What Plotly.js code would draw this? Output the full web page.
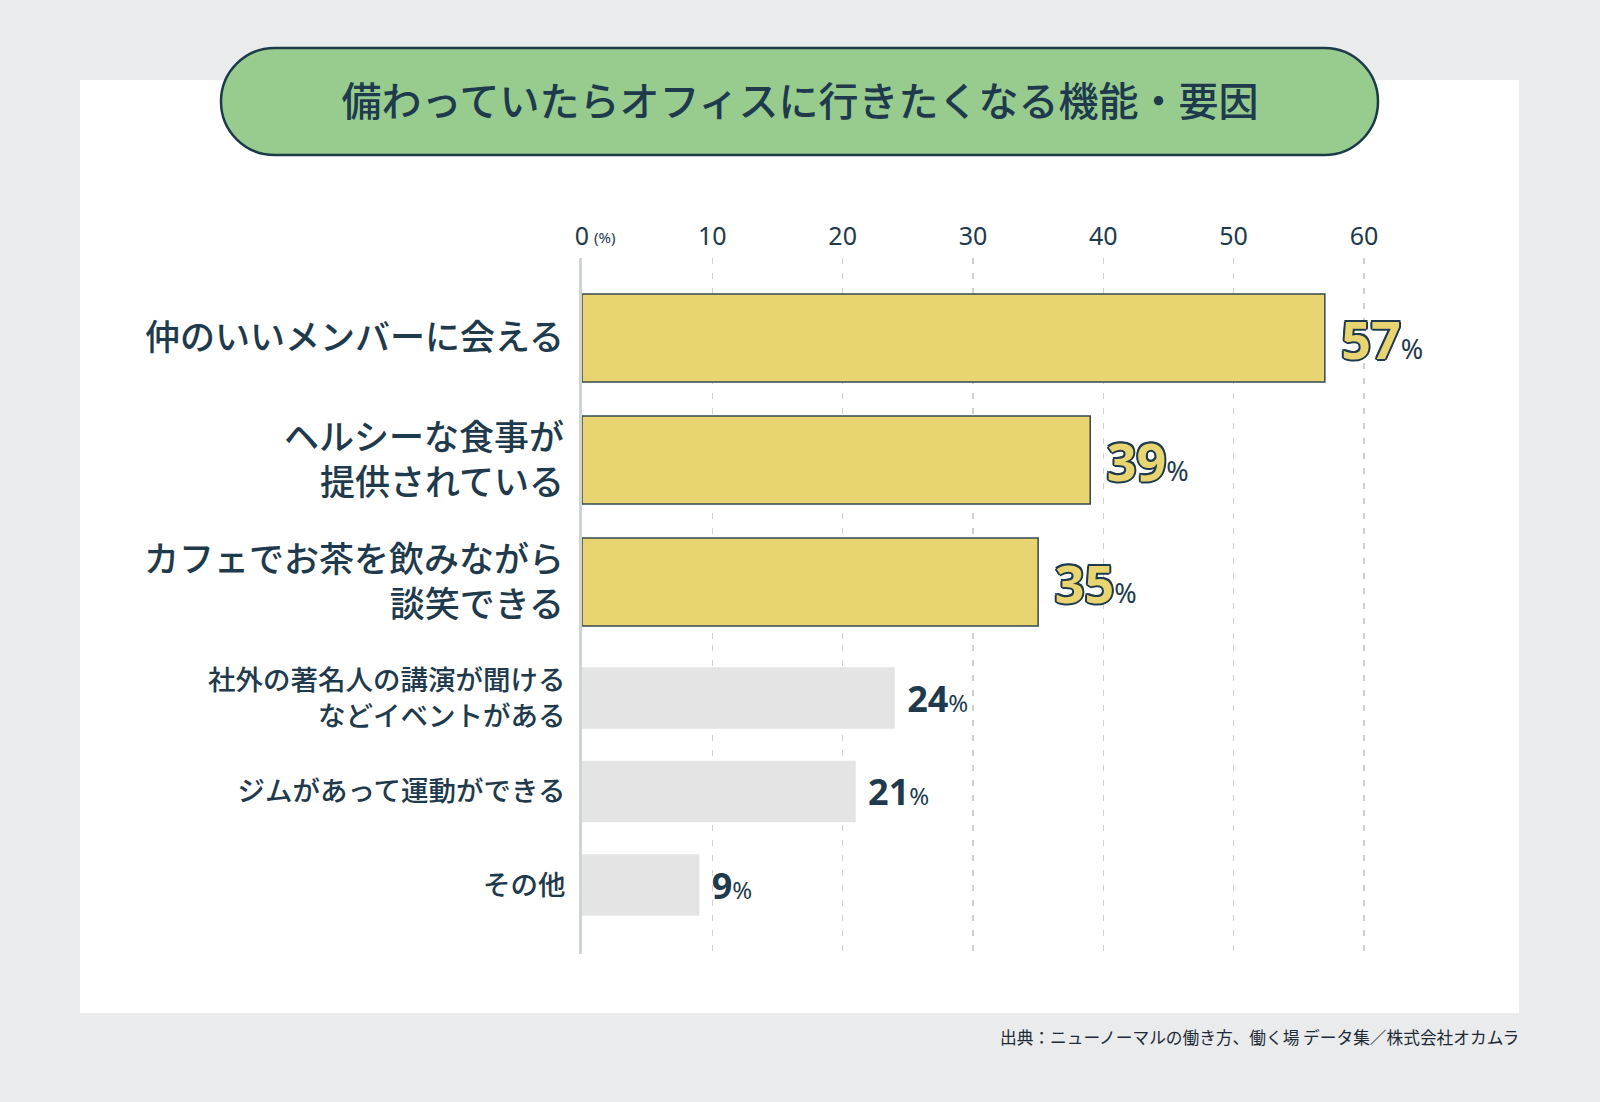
<!DOCTYPE html>
<html>
<head>
<meta charset="utf-8">
<script src="https://cdn.plot.ly/plotly-3.0.1.min.js"></script>
<style>
  body { margin: 0; background: #e9ebed; }
  #chart { width: 1600px; height: 1102px; }
</style>
</head>
<body>
<div id="chart"></div>
<script>
// values
var topLabels = ['仲のいいメンバーに会える', 'ヘルシーな食事が<br>提供されている', 'カフェでお茶を飲みながら<br>談笑できる'];
var topValues = [57, 39, 35];
var otherLabels = ['社外の著名人の講演が聞ける<br>などイベントがある', 'ジムがあって運動ができる', 'その他'];
var otherValues = [24, 21, 9];
var tickValues = [0, 10, 20, 30, 40, 50, 60];
var tickLabels = ['0', '10', '20', '30', '40', '50', '60'];

var W = 1600, H = 1102;
var navy = '#1e3a4c';
var jp = '"Noto Sans CJK JP", "Noto Sans", sans-serif';
var num = '"Noto Sans", "DejaVu Sans", sans-serif';

function px(x) { return x / W; }
function py(y) { return 1 - y / H; }

// rounded pill behind the title
function pill(x0, y0, x1, y1) {
    var r = (y1 - y0) / 2, k = 0.5523 * r;
    return 'M' + px(x0 + r) + ',' + py(y0) +
        ' L' + px(x1 - r) + ',' + py(y0) +
        ' C' + px(x1 - r + k) + ',' + py(y0) + ' ' + px(x1) + ',' + py(y0 + r - k) + ' ' + px(x1) + ',' + py(y0 + r) +
        ' C' + px(x1) + ',' + py(y0 + r + k) + ' ' + px(x1 - r + k) + ',' + py(y1) + ' ' + px(x1 - r) + ',' + py(y1) +
        ' L' + px(x0 + r) + ',' + py(y1) +
        ' C' + px(x0 + r - k) + ',' + py(y1) + ' ' + px(x0) + ',' + py(y0 + r + k) + ' ' + px(x0) + ',' + py(y0 + r) +
        ' C' + px(x0) + ',' + py(y0 + r - k) + ' ' + px(x0 + r - k) + ',' + py(y0) + ' ' + px(x0 + r) + ',' + py(y0) + ' Z';
}

// dark outline round the yellow numbers
var outline = ['-1.5px -1.5px', '1.5px -1.5px', '-1.5px 1.5px', '1.5px 1.5px', '0 2px', '0 -2px', '2px 0', '-2px 0']
    .map(function (o) { return o + ' 0 ' + navy; }).join(', ');

var traces = [{
        type: 'bar',
        orientation: 'h',
        x: topValues,
        y: topLabels,
        xaxis: 'x',
        yaxis: 'y',
        width: 0.72,
        marker: { color: '#e8d572', line: { color: '#34494f', width: 1.5 } },
        texttemplate: '\u00a0%{x}<span style="font-size:27px;font-weight:400;text-shadow:none;color:' + navy + '">%</span>',
        textposition: 'outside',
        cliponaxis: false,
        textfont: { family: num, size: 52, weight: 700, color: '#e8d572', shadow: outline },
        hoverinfo: 'skip'
    },
    {
        type: 'bar',
        orientation: 'h',
        x: otherValues,
        y: otherLabels,
        xaxis: 'x2',
        yaxis: 'y2',
        width: 0.66,
        marker: { color: '#e4e4e4', line: { width: 0 } },
        texttemplate: '\u00a0%{x}<span style="font-size:24px;font-weight:400">%</span>',
        textposition: 'outside',
        cliponaxis: false,
        textfont: { family: num, size: 36, weight: 700, color: navy },
        hoverinfo: 'skip'
    }
];

var xdomain = [px(582), px(1390)];
var grid = { showgrid: true, gridcolor: '#cdd1d4', gridwidth: 1.5, griddash: '6px,9px', zeroline: false, showline: false, ticks: '' };

var layout = {
    width: W,
    height: H,
    margin: { l: 0, r: 0, t: 0, b: 0 },
    paper_bgcolor: '#e9ebed',
    plot_bgcolor: 'rgba(0,0,0,0)',
    showlegend: false,
    hovermode: false,
    title: {
        text: '備わっていたらオフィスに行きたくなる機能・要因',
        x: 0.5, xanchor: 'center', xref: 'paper',
        y: py(102), yanchor: 'middle', yref: 'paper',
        font: { family: jp, size: 40, weight: 500, color: navy }
    },
    xaxis: Object.assign({
        domain: xdomain, range: [0, 62], anchor: 'y', side: 'top',
        tickmode: 'array', tickvals: tickValues, ticktext: tickLabels,
        tickfont: { family: num, size: 25, color: navy },
        ticklabelstandoff: 7
    }, grid),
    xaxis2: Object.assign({
        domain: xdomain, range: [0, 62], anchor: 'y2', matches: 'x',
        tickvals: tickValues, showticklabels: false
    }, grid),
    yaxis: {
        domain: [py(645), py(258)], anchor: 'x', type: 'category',
        categoryorder: 'array', categoryarray: topLabels,
        range: [2.516, -0.656],
        showline: true, linecolor: '#cfd4d7', linewidth: 3,
        showgrid: false, zeroline: false, ticks: '',
        tickfont: { family: jp, size: 35, weight: 500, color: navy },
        ticklabelstandoff: 8
    },
    yaxis2: {
        domain: [py(954), py(645)], anchor: 'x2', type: 'category',
        categoryorder: 'array', categoryarray: otherLabels,
        range: [2.738, -0.567],
        showline: true, linecolor: '#cfd4d7', linewidth: 3,
        showgrid: false, zeroline: false, ticks: '',
        tickfont: { family: jp, size: 27.5, weight: 500, color: navy },
        ticklabelstandoff: 8
    },
    shapes: [{
            type: 'rect', xref: 'paper', yref: 'paper', layer: 'below',
            x0: px(80), x1: px(1519), y0: py(1013), y1: py(80),
            fillcolor: '#ffffff', line: { width: 0 }
        },
        {
            type: 'path', xref: 'paper', yref: 'paper', layer: 'above',
            path: pill(221, 48, 1378, 155),
            fillcolor: '#98cc8f', line: { color: '#1c3a48', width: 2.5 }
        }
    ],
    annotations: [{
            text: '(%)', xref: 'x', x: 0, xanchor: 'left', xshift: 10,
            yref: 'paper', y: py(237), yanchor: 'middle', showarrow: false,
            font: { family: num, size: 15, color: navy }
        },
        {
            text: '出典：ニューノーマルの働き方、働く場 データ集／株式会社オカムラ',
            xref: 'paper', x: px(1521), xanchor: 'right',
            yref: 'paper', y: py(1037), yanchor: 'middle', showarrow: false,
            font: { family: jp, size: 16.7, color: '#1d2a35' }
        }
    ]
};

Plotly.newPlot('chart', traces, layout, { staticPlot: true, displayModeBar: false });
</script>
</body>
</html>
